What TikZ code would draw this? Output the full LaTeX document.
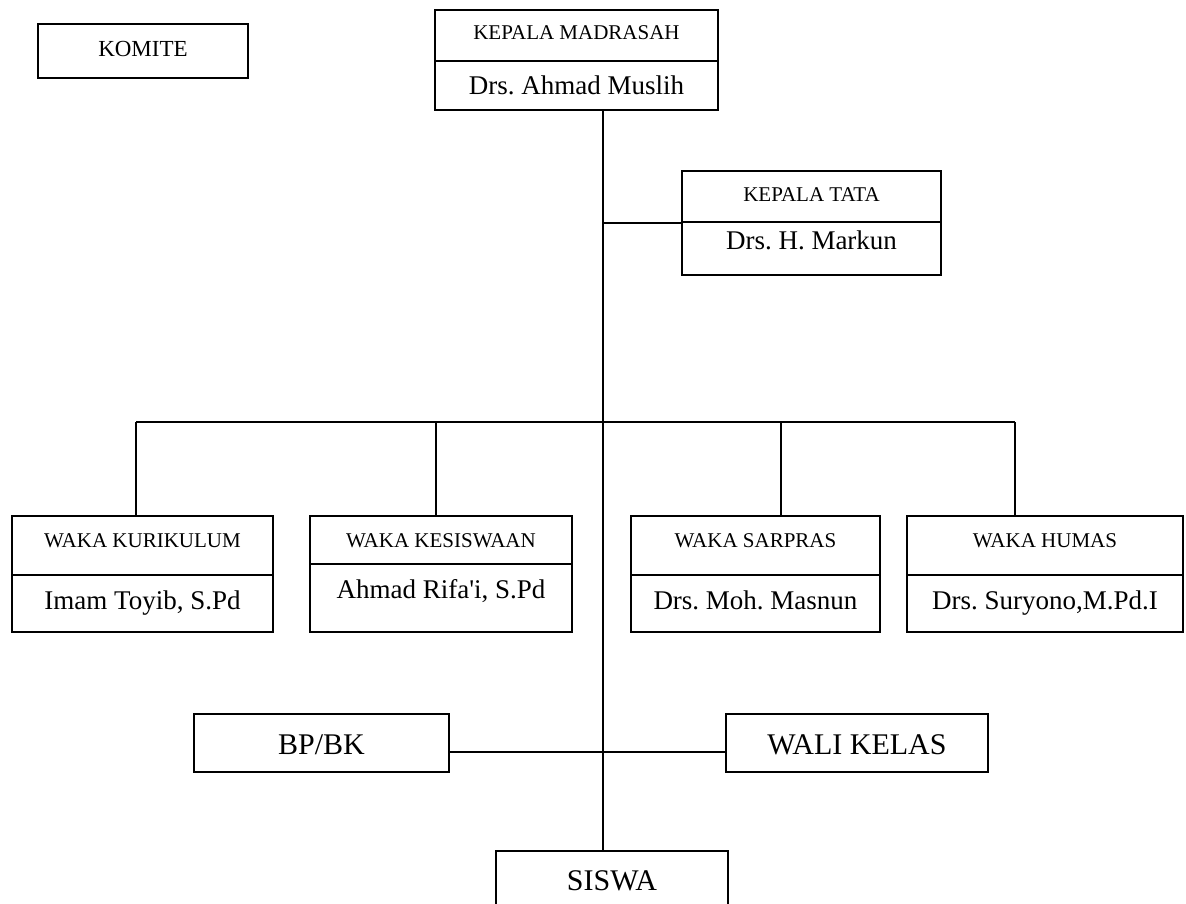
\documentclass[tikz,border=0pt]{standalone}
\usepackage{fontspec}
\setmainfont{Liberation Serif}
\frenchspacing
\begin{document}
\begin{tikzpicture}[x=1pt,y=-1pt,
 box/.style={draw, line width=1.3pt, inner sep=0pt, rectangle},
 conn/.style={line width=1.3pt},
 ttl/.style={font=\fontsize{21}{25}\selectfont, anchor=base, inner sep=0pt},
 nm/.style={font=\fontsize{27}{32}\selectfont, anchor=base, inner sep=0pt},
 big/.style={font=\fontsize{30}{36}\selectfont, anchor=base, inner sep=0pt},
 kom/.style={font=\fontsize{23}{28}\selectfont, anchor=base, inner sep=0pt}]
\useasboundingbox (0,0) rectangle (1186,904);
\clip (0,0) rectangle (1186,904);

% boxes
\node[box, minimum width=210pt, minimum height=54pt] (komite) at (143,51) {};
\node[box, minimum width=283pt, minimum height=100pt] (km) at (576.5,60) {};
\node[box, minimum width=259pt, minimum height=104pt] (kt) at (811.5,223) {};
\node[box, minimum width=261pt, minimum height=116pt] (wk) at (142.5,574) {};
\node[box, minimum width=262pt, minimum height=116pt] (wkes) at (441,574) {};
\node[box, minimum width=249pt, minimum height=116pt] (ws) at (755.5,574) {};
\node[box, minimum width=276pt, minimum height=116pt] (wh) at (1045,574) {};
\node[box, minimum width=255pt, minimum height=58pt] (bp) at (321.5,743) {};
\node[box, minimum width=262pt, minimum height=58pt] (wali) at (857,743) {};
\node[box, minimum width=232pt, minimum height=58pt] (siswa) at (612,880) {};

% dividers
\draw[conn] (km.west |- 0,61) -- (km.east |- 0,61);
\draw[conn] (kt.west |- 0,222) -- (kt.east |- 0,222);
\draw[conn] (wk.west |- 0,575) -- (wk.east |- 0,575);
\draw[conn] (wkes.west |- 0,564) -- (wkes.east |- 0,564);
\draw[conn] (ws.west |- 0,575) -- (ws.east |- 0,575);
\draw[conn] (wh.west |- 0,575) -- (wh.east |- 0,575);

% texts
\node[kom] (tkomite) at (143,57) {KOMITE};
\node[ttl] (tkm) at (576.5,40) {KEPALA MADRASAH};
\node[nm] (nkm) at (576.5,95) {Drs. Ahmad Muslih};
\node[ttl] (tkt) at (811.5,202) {KEPALA TATA};
\node[nm] (nkt) at (811.5,250) {Drs. H. Markun};
\node[ttl] (twk) at (142.5,547) {WAKA KURIKULUM};
\node[nm] (nwk) at (142.5,609) {Imam Toyib, S.Pd};
\node[ttl] (twkes) at (441,547) {WAKA KESISWAAN};
\node[nm] (nwkes) at (441,598) {Ahmad Rifa\textquotesingle i, S.Pd};
\node[ttl] (tws) at (755.5,547) {WAKA SARPRAS};
\node[nm] (nws) at (755.5,609) {Drs. Moh. Masnun};
\node[ttl] (twh) at (1045,547) {WAKA HUMAS};
\node[nm] (nwh) at (1045,609) {Drs. Suryono,M.Pd.I};
\node[big] (tbp) at (321.5,754) {BP/BK};
\node[big] (twali) at (857,754) {WALI KELAS};
\node[big] (tsiswa) at (612,890) {SISWA};

% connectors
\coordinate (spine) at (603,0);
\coordinate (bus) at (0,422);
\coordinate (mid) at (0,752);
\coordinate (d1) at (136,422);
\coordinate (d2) at (436,422);
\coordinate (d3) at (781,422);
\coordinate (d4) at (1015,422);
\draw[conn] (spine |- km.south) -- (spine |- siswa.north);
\draw[conn] (spine |- kt.west) -- (kt.west);
\draw[conn] (d1) -- (d4);
\draw[conn] (d1) -- (d1 |- wk.north);
\draw[conn] (d2) -- (d2 |- wkes.north);
\draw[conn] (d3) -- (d3 |- ws.north);
\draw[conn] (d4) -- (d4 |- wh.north);
\draw[conn] (bp.east |- mid) -- (wali.west |- mid);
\end{tikzpicture}
\end{document}
